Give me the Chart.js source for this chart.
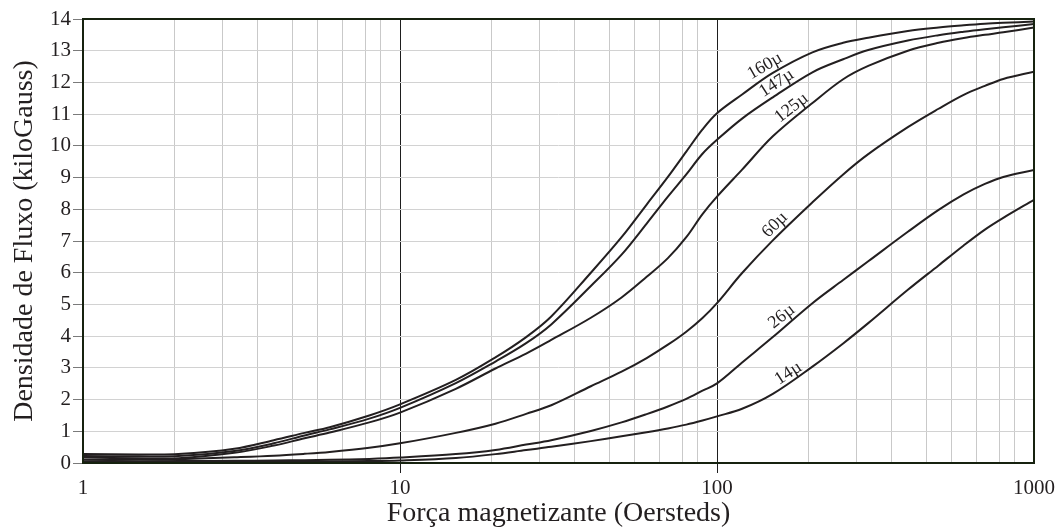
<!DOCTYPE html>
<html>
<head>
<meta charset="utf-8">
<script src="https://cdn.jsdelivr.net/npm/chart.js@4.4.0/dist/chart.umd.min.js"></script>
<style>
  html, body { margin: 0; padding: 0; background: #fff; }
</style>
</head>
<body>
<canvas id="bhChart" width="1056" height="528"></canvas>
<script>
const forceH = [1, 1.5, 2, 3, 4, 5, 6, 8, 10, 15, 20, 25, 30, 40, 50, 60, 70, 80, 90, 100,
                120, 150, 200, 250, 300, 400, 500, 600, 700, 800, 1000];

// Flux density B (kiloGauss) per permeability
const b160 = [0.28, 0.27, 0.28, 0.45, 0.72, 0.95, 1.13, 1.5, 1.85, 2.62, 3.33, 3.97, 4.62, 6.0, 7.12, 8.15, 9.02, 9.82, 10.52, 11.03,
              11.62, 12.3, 12.95, 13.25, 13.41, 13.62, 13.73, 13.8, 13.85, 13.88, 13.92];
const b147 = [0.22, 0.21, 0.22, 0.38, 0.62, 0.87, 1.06, 1.4, 1.74, 2.52, 3.2, 3.78, 4.37, 5.58, 6.57, 7.55, 8.4, 9.1, 9.75, 10.19,
              10.86, 11.53, 12.32, 12.73, 13.02, 13.32, 13.49, 13.6, 13.68, 13.74, 13.84];
const b125 = [0.17, 0.15, 0.15, 0.32, 0.55, 0.78, 0.96, 1.28, 1.59, 2.34, 2.98, 3.45, 3.88, 4.58, 5.22, 5.87, 6.46, 7.12, 7.85, 8.4,
              9.25, 10.3, 11.35, 12.1, 12.52, 13.0, 13.25, 13.4, 13.5, 13.58, 13.73];
const b60  = [0.1, 0.1, 0.12, 0.18, 0.23, 0.29, 0.35, 0.48, 0.62, 0.95, 1.24, 1.55, 1.82, 2.42, 2.88, 3.31, 3.73, 4.14, 4.57, 5.04,
              5.99, 7.02, 8.22, 9.1, 9.74, 10.59, 11.17, 11.61, 11.89, 12.11, 12.34];
const b26  = [0.05, 0.05, 0.06, 0.07, 0.08, 0.09, 0.1, 0.13, 0.17, 0.28, 0.41, 0.58, 0.72, 1.01, 1.28, 1.54, 1.78, 2.02, 2.28, 2.51,
              3.17, 3.97, 5.04, 5.77, 6.36, 7.29, 7.98, 8.47, 8.8, 9.02, 9.24];
const b14  = [0.03, 0.03, 0.03, 0.04, 0.04, 0.05, 0.05, 0.06, 0.08, 0.16, 0.28, 0.41, 0.51, 0.69, 0.84, 0.97, 1.09, 1.21, 1.34, 1.47,
              1.71, 2.18, 3.04, 3.77, 4.41, 5.46, 6.23, 6.86, 7.36, 7.73, 8.3];

// Curve names and where their labels sit (H, B)
const curveNames = ['160µ', '147µ', '125µ', '60µ', '26µ', '14µ'];
const labelH = [141.7, 154.3, 172, 152.4, 160, 168];
const labelB = [12.52, 11.98, 11.2, 7.51, 4.62, 2.83];

// Axis ticks
const decadeTicks = [1, 10, 100, 1000];
// the printed grid's minor lines are not at true log spacing; these follow the scan
const minorSteps = [1.95, 2.75, 3.55, 4.57, 5.5, 6.6, 7.76, 8.7];

const INK = '#231f20';
const FONT = 'Liberation Serif';

const seriesB = [b160, b147, b125, b60, b26, b14];

const gridValues = [];
decadeTicks.forEach(d => {
    gridValues.push(d);
    if (d < 1000) minorSteps.forEach(m => gridValues.push(m * d));
});

const framePlugin = {
    id: 'frame',
    afterDatasetsDraw(chart) {
        const { ctx, chartArea: a } = chart;
        ctx.save();
        ctx.strokeStyle = '#16220f';
        ctx.lineWidth = 2;
        ctx.strokeRect(a.left, a.top, a.right - a.left, a.bottom - a.top);
        ctx.restore();
    }
};

const labelTilt = [-30, -33, -38, -45, -38, -33];
const curveLabelPlugin = {
    id: 'curveLabels',
    afterDatasetsDraw(chart) {
        const { ctx, scales: { x, y } } = chart;
        ctx.save();
        ctx.font = '18px "' + FONT + '"';
        ctx.fillStyle = INK;
        ctx.textAlign = 'center';
        ctx.textBaseline = 'middle';
        curveNames.forEach((name, i) => {
            ctx.save();
            ctx.translate(x.getPixelForValue(labelH[i]), y.getPixelForValue(labelB[i]));
            ctx.rotate(labelTilt[i] * Math.PI / 180);
            ctx.fillText(name, 0, 0);
            ctx.restore();
        });
        ctx.restore();
    }
};

new Chart(document.getElementById('bhChart').getContext('2d'), {
    type: 'line',
    data: {
        datasets: seriesB.map((bs, i) => ({
            label: curveNames[i],
            data: bs.map((b, j) => ({ x: forceH[j], y: b })),
            borderColor: INK,
            borderWidth: 2,
            pointRadius: 0,
            tension: 0.35
        }))
    },
    options: {
        responsive: false,
        animation: false,
        layout: { padding: { top: 19, right: 22, left: 0, bottom: 0 } },
        plugins: { legend: { display: false }, tooltip: { enabled: false } },
        scales: {
            x: {
                type: 'logarithmic',
                min: 1,
                max: 1000,
                afterBuildTicks: axis => { axis.ticks = gridValues.map(v => ({ value: v })); },
                afterFit: s => { s.height = 65; s.paddingLeft = 0; s.paddingRight = 0; },
                border: { display: false },
                grid: {
                    color: c => (c.tick && (c.tick.value === 10 || c.tick.value === 100)) ? '#1e1e1e' : '#c9c9c9',
                    tickColor: c => (c.tick && (c.tick.value === 10 || c.tick.value === 100)) ? '#1e1e1e' : 'rgba(0,0,0,0)',
                    tickLength: 10,
                    lineWidth: 1
                },
                ticks: {
                    autoSkip: false,
                    maxRotation: 0,
                    padding: 3,
                    color: INK,
                    font: { family: FONT, size: 21 },
                    callback: v => decadeTicks.includes(v) ? String(v) : ''
                },
                title: {
                    display: true,
                    text: 'Força magnetizante (Oersteds)',
                    color: INK,
                    font: { family: FONT, size: 28, lineHeight: 1.05 },
                    padding: { top: 0, bottom: 0 }
                }
            },
            y: {
                min: 0,
                max: 14,
                afterFit: s => { s.width = 83; s.paddingTop = 0; s.paddingBottom = 0; },
                border: { display: false },
                grid: { color: '#d2d2d2', tickColor: '#7a7a7a', tickLength: 10, lineWidth: 1 },
                ticks: {
                    stepSize: 1,
                    padding: 2,
                    color: INK,
                    font: { family: FONT, size: 21 }
                },
                title: {
                    display: true,
                    text: 'Densidade de Fluxo (kiloGauss)',
                    color: INK,
                    font: { family: FONT, size: 28 },
                    padding: { top: 8, bottom: 0 }
                }
            }
        }
    },
    plugins: [framePlugin, curveLabelPlugin]
});
</script>
</body>
</html>
